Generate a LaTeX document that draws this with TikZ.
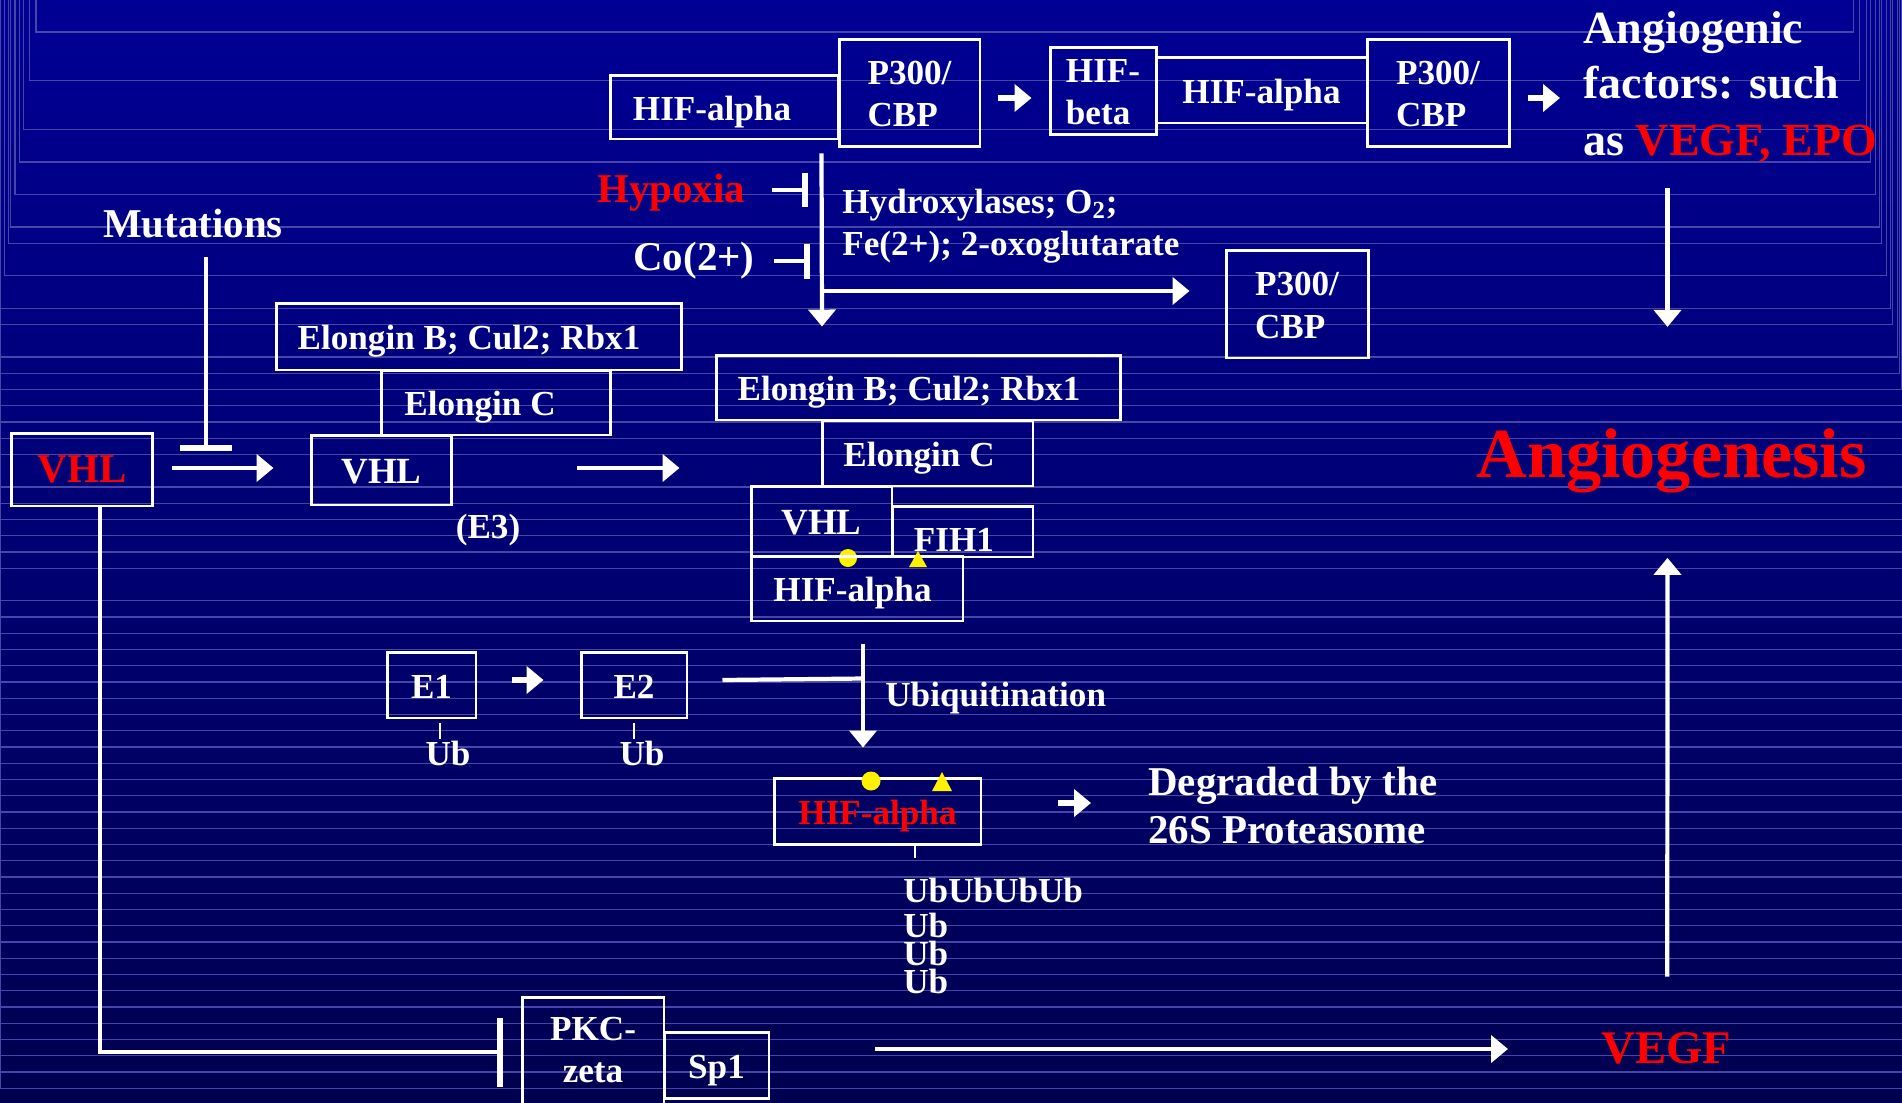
\documentclass[tikz,border=0pt]{standalone}
\usepackage{fontspec}
\setmainfont{Liberation Serif}
\usepackage{tikz}
\usetikzlibrary{arrows.meta,calc}

\definecolor{bgtop}{RGB}{0,0,148}
\definecolor{bgbot}{RGB}{0,0,80}
\definecolor{bgline}{RGB}{70,70,168}

\newcommand{\boxf}{\fontsize{20}{24}\selectfont\bfseries}
\newcommand{\vhlf}{\fontsize{21}{25}\selectfont\bfseries}
\newcommand{\lblf}{\fontsize{23.3}{28}\selectfont\bfseries}
\newcommand{\facf}{\fontsize{26.2}{31}\selectfont\bfseries}
\newcommand{\angf}{\fontsize{40}{48}\selectfont\bfseries}
\newcommand{\vegff}{\fontsize{26.6}{32}\selectfont\bfseries}

\begin{document}
\begin{tikzpicture}[x=0.02cm, y=-0.02cm,
  box/.style={draw=white, line width=1.7pt, text=white, font=\boxf, inner sep=0pt,
    text height=19.2pt, text depth=4.4pt},
  mbox/.style={box, align=left, text height=38.7pt, text depth=0pt},
  lbl/.style={text=white, font=\boxf, inner sep=0pt},
  arr/.style={white, line width=2.4pt, -{Triangle[length=0.34cm,width=0.54cm]}},
  barr/.style={arr, line width=3.6pt},
  inh/.style={white, line width=2.4pt, -{Bar[width=#1, line width=3.4pt]}},
  ln/.style={white, line width=2.4pt},
  tick/.style={white, line width=0.9pt},
  bgln/.style={draw=bgline, line width=0.6pt}]

\useasboundingbox (0,0) rectangle (1902,1102);
\clip (0,0) rectangle (1902,1102);
\fill[top color=bgtop, bottom color=bgbot] (0,0) rectangle (1902,1102);

\foreach \k in {0,3,6,8,10,12,13,15,17,18,20,21,...,26,28,29,...,33,35,36,...,65}{
  \pgfmathsetmacro\yy{32+16.25*\k}
  \pgfmathsetmacro\xl{max(0,36-2.1*\k)}
  \pgfmathsetmacro\xr{min(1902,1853+2.2*\k)}
  \draw[bgln] (\xl,0) -- (\xl,\yy) -- (\xr,\yy) -- (\xr,0);
}

\fill[yellow] (848,558) circle[radius=9];

\node[box, minimum width=4.58cm, minimum height=1.28cm] (hifa1) at (724.5,107) {HIF-alpha\hspace*{0.5cm}};
\node[mbox, minimum width=2.82cm, minimum height=2.16cm] (p1) at (909.5,93) {P300/\\CBP};
\node[mbox, minimum width=2.12cm, minimum height=1.76cm] (hifb) at (1103,91) {HIF-\\beta};
\node[box, minimum width=4.22cm, minimum height=1.32cm] (hifa2) at (1261.5,90) {HIF-alpha};
\node[mbox, minimum width=2.84cm, minimum height=2.16cm] (p2) at (1438,93) {P300/\\CBP};
\node[mbox, minimum width=2.84cm, minimum height=2.16cm] (p3) at (1297,304) {P300/\\CBP};

\node[box, minimum width=8.12cm, minimum height=1.34cm] (elb1) at (479,336.5) {Elongin B; Cul2; Rbx1\hspace*{0.4cm}};
\node[box, minimum width=4.6cm, minimum height=1.3cm] (elc1) at (496,402.5) {Elongin C\hspace*{0.64cm}};
\node[box, font=\lblf, text=red, minimum width=2.84cm, minimum height=1.46cm] (vhl0) at (82,469.5) {VHL};
\node[box, font=\vhlf, minimum width=2.82cm, minimum height=1.4cm] (vhl1) at (381.5,470) {VHL};

\node[box, minimum width=8.1cm, minimum height=1.3cm] (elb2) at (918.5,387.5) {Elongin B; Cul2; Rbx1\hspace*{0.38cm}};
\node[box, minimum width=4.22cm, minimum height=1.32cm] (elc2) at (927.5,453) {Elongin C\hspace*{0.34cm}};
\node[box, font=\vhlf, minimum width=2.82cm, minimum height=1.4cm] (vhl2) at (821.5,521) {VHL};
\node[box, text height=23pt, text depth=0pt, minimum width=2.82cm, minimum height=1.02cm] (fih) at (962.5,531.5) {FIH1\hspace*{0.34cm}};
\node[box, minimum width=4.24cm, minimum height=1.3cm] (hifa3) at (857,588.5) {HIF-alpha\hspace*{0.18cm}};

\node[box, minimum width=1.78cm, minimum height=1.32cm] (e1) at (431.5,685) {E1};
\node[box, minimum width=2.12cm, minimum height=1.32cm] (e2) at (634,685) {E2};
\node[box, text=red, minimum width=4.14cm, minimum height=1.32cm] (hifa4) at (877.5,811) {HIF-alpha};
\node[mbox, align=center, text height=34.1pt, minimum width=2.84cm, minimum height=2.24cm] (pkc) at (593,1053) {PKC-\\zeta};
\node[box, minimum width=2.1cm, minimum height=1.32cm] (sp1) at (716.5,1065) {Sp1};

\fill[yellow] (909,567) -- (918,551) -- (927,567) -- cycle;
\fill[yellow] (871,781) circle[radius=9.5];
\fill[yellow] (932,791) -- (942,772) -- (952,791) -- cycle;

\node[lbl, font=\lblf, anchor=base] (mut) at (193,237) {Mutations};
\node[lbl, font=\lblf, text=red, anchor=base west] (hyp) at (597,202) {Hypoxia};
\node[lbl, font=\lblf, anchor=base west] (co) at (633,270) {Co(2+)};
\node[lbl, anchor=base west] (hyd1) at (842,213) {Hydroxylases; O\textsubscript{2};};
\node[lbl, anchor=base west] (hyd2) at (842,255) {Fe(2+); 2-oxoglutarate};
\node[lbl, font=\facf, anchor=base west] (fac1) at (1583,43) {Angiogenic};
\node[lbl, font=\facf, anchor=base west] (fac2) at (1583,98) {factors: such};
\node[lbl, font=\facf, anchor=base west] (fac3) at (1583,155) {as \textcolor{red}{VEGF, EPO}};
\node[lbl, font=\angf, text=red, anchor=base] (ang) at (1671.5,477) {Angiogenesis};
\node[lbl, font=\vegff, text=red, anchor=base west] (vegf) at (1601,1063) {VEGF};
\node[lbl, anchor=base] (e3) at (488,538) {(E3)};
\node[lbl, anchor=base] (ub1) at (448,765) {Ub};
\node[lbl, anchor=base] (ub2) at (642,765) {Ub};
\node[lbl, anchor=base west] (ubq) at (885,706) {Ubiquitination};
\node[lbl, anchor=base west] (ubs1) at (903,902) {UbUbUbUb};
\node[lbl, anchor=base west] (ubs2) at (903,937) {Ub};
\node[lbl, anchor=base west] (ubs3) at (903,965) {Ub};
\node[lbl, anchor=base west] (ubs4) at (903,993) {Ub};
\node[lbl, font=\lblf, anchor=base west] (deg1) at (1148,795) {Degraded by the};
\node[lbl, font=\lblf, anchor=base west] (deg2) at (1148,843) {26S Proteasome};

\draw[barr] ($(p1.east)+(17,5)$) -- ($(hifb.west)+(-17,7)$);
\draw[barr] ($(p2.east)+(17,5)$) -- ($(fac2.base west)+(-23,0)$);
\draw[arr] ($(ang.north)+(-4,-240)$) -- ($(ang.north)+(-4,-101)$);
\draw[arr] ($(vegf.north)+(1,-55)$) -- ($(ang.south)+(-4,65)$);

\draw[inh=0.7cm] ($(hyp.base east)+(26,-12)$) -- ++(36,0);
\draw[inh=0.7cm] ($(co.base east)+(19,-9)$) -- ++(36,0);
\draw[arr] ($(hifa1.south)+(97,13)$) -- ($(elb2.north)+(-96.5,-27)$);
\draw[arr] ($(p3.west)+(-404,-13)$) -- ($(p3.west)+(-35,-13)$);

\draw[inh=1.06cm] ($(mut.base)+(13,20)$) -- ++(0,194);
\draw[barr, line width=2.6pt] ($(vhl0.east)+(18,-1.5)$) -- ($(vhl1.west)+(-36,-2)$);
\draw[barr, line width=2.6pt] ($(vhl1.east)+(124,-2)$) -- ($(vhl2.west)+(-70,-53)$);

\draw[barr] ($(e1.east)+(35,-5)$) -- ($(e2.west)+(-36,-5)$);
\draw[tick] ($(e1.south)+(8.5,4)$) -- ++(0,16);
\draw[tick] ($(e2.south)+(0,4)$) -- ++(0,16);
\draw[ln] ($(e2.east)+(34,-5)$) -- ($(hifa4.north)+(-14.5,-98)$);
\draw[arr] ($(hifa4.north)+(-14.5,-133)$) -- ($(hifa4.north)+(-14.5,-29)$);
\draw[tick] ($(hifa4.south)+(37.5,0)$) -- ++(0,12);
\draw[barr] ($(hifa4.east)+(76,-8)$) -- ($(deg1.base west)+(-57,8)$);

\draw[inh=1.38cm] ($(vhl0.south)+(18,0)$) |- ($(pkc.west)+(-18,-1)$);
\draw[arr] ($(sp1.east)+(105,-16)$) -- ($(vegf.base west)+(-93,-14)$);
\end{tikzpicture}
\end{document}
